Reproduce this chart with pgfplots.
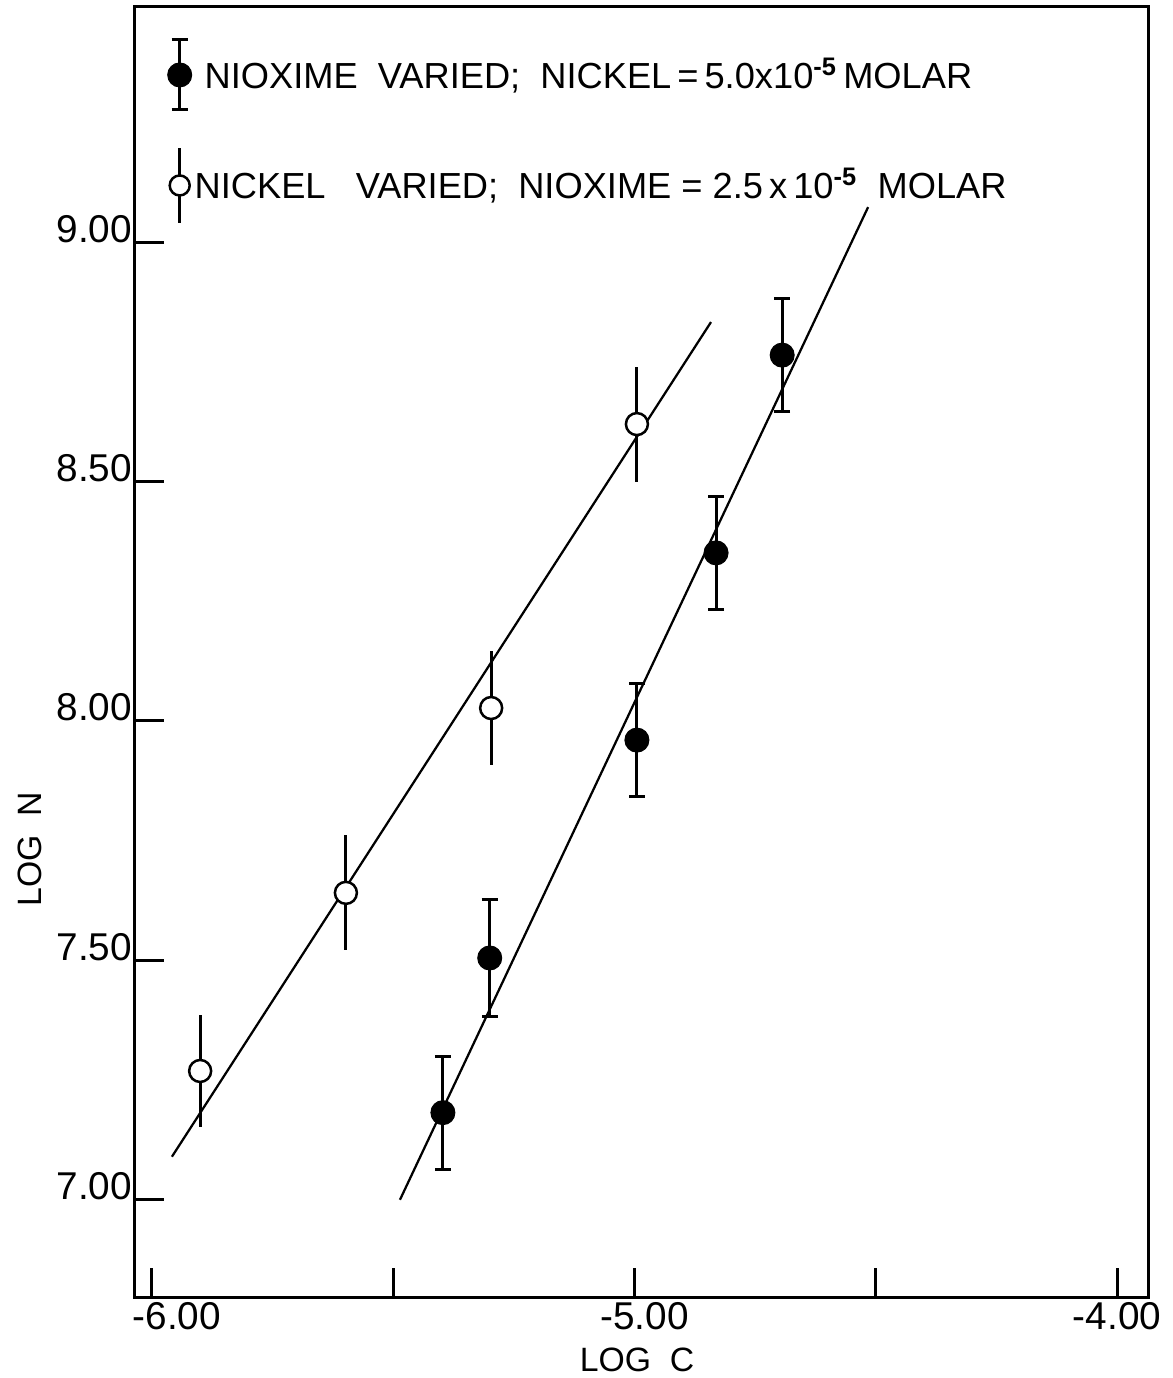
\documentclass[border=0pt]{standalone}
\usepackage{fontspec}
\setmainfont{Liberation Sans}
\usepackage{pgfplots}
\usepackage{pgfplotstable}
\pgfplotsset{compat=1.18}
\pgfplotstableread{
x y e
-5.397 7.182 0.118
-5.300 7.505 0.122
-4.995 7.960 0.118
-4.831 8.351 0.118
-4.694 8.764 0.118
}\filled
\pgfplotstableread{
x y e
-5.900 7.269 0.117
-5.598 7.641 0.120
-5.297 8.027 0.120
-4.995 8.620 0.120
}\open
\begin{document}
\begin{tikzpicture}
\useasboundingbox (-54pt,-32.4pt) rectangle (414.8pt,518.8pt);
\begin{axis}[
  scale only axis, width=405.2pt, height=516pt,
  xmin=-6.035, xmax=-3.936, ymin=6.797, ymax=9.491,
  axis line style={line width=1.2pt},
  xtick={-6,-5.5,-5,-4.5,-4},
  xticklabels={\hspace*{20pt}-6.00,,\hspace*{8pt}-5.00,,-4.00},
  ytick={7,7.5,8,8.5,9}, yticklabels={7.00,7.50,8.00,8.50,9.00},
  tick align=inside, xtick pos=left, ytick pos=left,
  major tick length=11.5pt,
  tick style={line width=1.2pt, black},
  ticklabel style={font=\fontsize{15.5}{17}\selectfont},
  xticklabel style={inner ysep=2pt},
  yticklabel style={anchor=base east, inner xsep=1pt},
  xlabel={LOG\ \ C}, ylabel={LOG\ \ N},
  label style={font=\fontsize{13.5}{15}\selectfont},
  xlabel style={at={(axis description cs:0.4956,-0.0488)}, anchor=center},
  ylabel style={at={(axis description cs:-0.1037,0.347)}, anchor=center},
  legend style={at={(axis description cs:0.0313,0.976)}, anchor=north west,
    draw=none, fill=none, inner sep=0pt, row sep=14pt,
    font=\fontsize{14.5}{16}\selectfont},
  legend cell align=left,
]
\addplot[black, line width=0.9pt, forget plot] coordinates {(-5.9585,7.090) (-4.8415,8.833)};
\addplot[black, line width=0.9pt, forget plot] coordinates {(-5.486,7.000) (-4.516,9.073)};
\addplot[black, only marks, mark=*, mark size=4.8pt,
  legend image code/.code={
    \draw[line width=1.2pt] (0.3cm,-14pt) -- (0.3cm,14pt);
    \draw[line width=1.2pt] (0.3cm-3.2pt,-14pt) -- (0.3cm+3.2pt,-14pt);
    \draw[line width=1.2pt] (0.3cm-3.2pt,14pt) -- (0.3cm+3.2pt,14pt);
    \fill (0.3cm,0pt) circle (4.8pt);},
  error bars/.cd, y dir=both, y explicit,
  error bar style={line width=1.2pt},
  error mark options={rotate=90, mark size=3.2pt, line width=1.2pt}]
  table[x=x, y=y, y error=e] {\filled};
\addlegendentry{\hspace{3pt}NIOXIME\ \ VARIED;\ \ NICKEL\,=\,5.0x10\textsuperscript{\textbf{-5}}\,MOLAR}
\addplot[black, only marks, mark=*, mark size=4.4pt, mark options={fill=white, line width=1pt},
  legend image code/.code={
    \draw[line width=1.2pt] (0.3cm,-15pt) -- (0.3cm,15pt);
    \draw[line width=1pt, fill=white] (0.3cm,0pt) circle (4pt);},
  error bars/.cd, y dir=both, y explicit,
  error bar style={line width=1.2pt}, error mark=none]
  table[x=x, y=y, y error=e] {\open};
\addlegendentry{\hspace{-1pt}NICKEL\ \ \ VARIED;\ \ NIOXIME\ =\ 2.5\,x\,10\textsuperscript{\textbf{-5}}\ \ MOLAR}
\end{axis}
\end{tikzpicture}
\end{document}
